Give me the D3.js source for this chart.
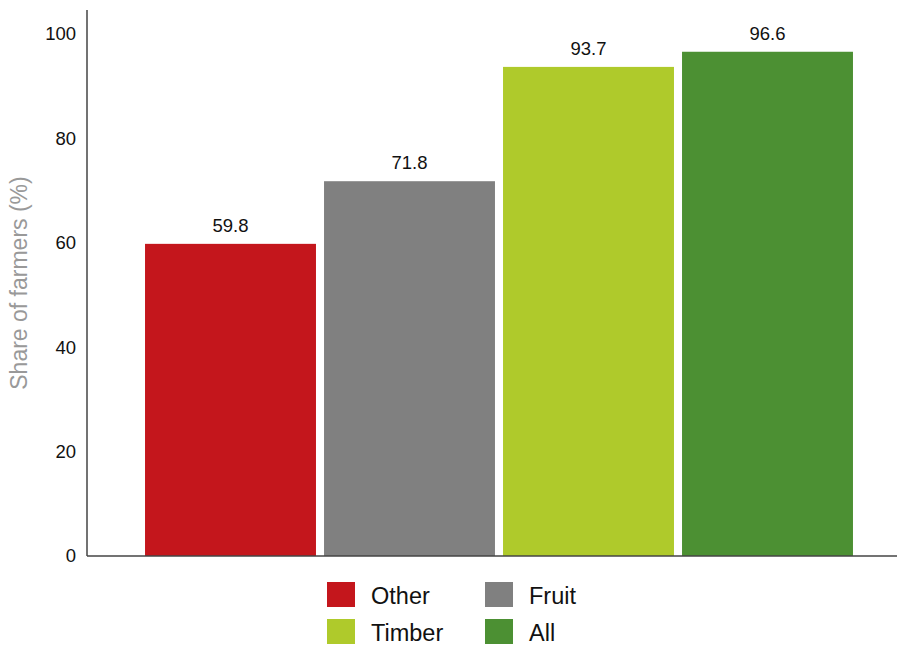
<!DOCTYPE html>
<html>
<head>
<meta charset="utf-8">
<script src="https://cdn.jsdelivr.net/npm/d3@7"></script>
<style>
  body { margin: 0; background: #fff; }
  svg { display: block; font-family: "Liberation Sans", Arial, sans-serif; }
</style>
</head>
<body>
<div id="chart"></div>
<script>
const categories = ["Other", "Fruit", "Timber", "All"];
const values = [59.8, 71.8, 93.7, 96.6];
const colors = ["#c4161c", "#808080", "#afca2b", "#4c9033"];
const yTicks = [0, 20, 40, 60, 80, 100];
const yTitle = "Share of farmers (%)";

const width = 901, height = 646;
const axisX = 87, baseY = 556, topY = 10;

const svg = d3.select("#chart").append("svg")
  .attr("width", width)
  .attr("height", height);

const y = d3.scaleLinear()
  .domain([0, 104.6])
  .range([baseY, topY]);

const x = d3.scaleBand()
  .domain(categories)
  .range([141, 857])
  .paddingInner(0.045)
  .paddingOuter(0.0225);

// bars
svg.append("g")
  .selectAll("rect")
  .data(values)
  .join("rect")
  .attr("x", (d, i) => x(categories[i]))
  .attr("y", d => y(d))
  .attr("width", x.bandwidth())
  .attr("height", d => baseY - y(d))
  .attr("fill", (d, i) => colors[i]);

// value labels
svg.append("g")
  .selectAll("text")
  .data(values)
  .join("text")
  .attr("x", (d, i) => x(categories[i]) + x.bandwidth() / 2)
  .attr("y", d => y(d) - 12)
  .attr("text-anchor", "middle")
  .attr("font-size", 18.5)
  .attr("fill", "#111")
  .text(d => d.toFixed(1));

// y axis
const yAxis = d3.axisLeft(y).tickValues(yTicks).tickSize(0).tickPadding(11);
const gy = svg.append("g")
  .attr("transform", `translate(${axisX},0)`)
  .call(yAxis);
gy.select(".domain").remove();
gy.selectAll("text").attr("font-size", 18.5).attr("fill", "#111")
  .attr("font-family", "Liberation Sans, Arial, sans-serif");

svg.append("line")
  .attr("x1", axisX).attr("x2", axisX)
  .attr("y1", topY).attr("y2", baseY)
  .attr("stroke", "#444").attr("stroke-width", 1.5);

svg.append("line")
  .attr("x1", axisX).attr("x2", 897)
  .attr("y1", baseY).attr("y2", baseY)
  .attr("stroke", "#444").attr("stroke-width", 1.5);

svg.append("text")
  .attr("transform", `translate(27,${(topY + baseY) / 2}) rotate(-90)`)
  .attr("text-anchor", "middle")
  .attr("font-size", 23)
  .attr("fill", "#999")
  .text(yTitle);

// legend
const legend = svg.append("g").attr("transform", "translate(327,582)");
const item = legend.selectAll("g")
  .data(categories)
  .join("g")
  .attr("transform", (d, i) => `translate(${(i % 2) * 158},${Math.floor(i / 2) * 37})`);
item.append("rect")
  .attr("width", 28).attr("height", 25)
  .attr("fill", (d, i) => colors[i]);
item.append("text")
  .attr("x", 44).attr("y", 22)
  .attr("font-size", 23.5)
  .attr("fill", "#111")
  .text(d => d);
</script>
</body>
</html>
